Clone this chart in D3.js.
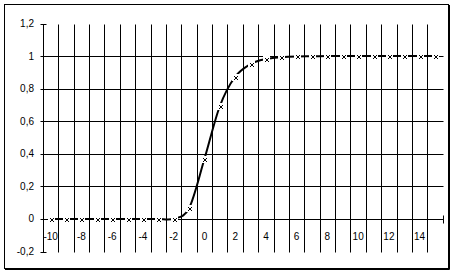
<!DOCTYPE html>
<html>
<head>
<meta charset="utf-8">
<script src="https://cdn.jsdelivr.net/npm/d3@7"></script>
<style>
  body { margin: 0; background: #fff; }
  text { font-family: Arial, "Liberation Sans", sans-serif; font-size: 10px; fill: #000; }
</style>
</head>
<body>
<script>
// categories on the x axis
var categories = [-10, -9, -8, -7, -6, -5, -4, -3, -2, -1, 0, 1, 2, 3, 4, 5, 6, 7, 8, 9, 10, 11, 12, 13, 14, 15];
// series values
var values = [0, 0, 0, 0, 0, 0, 0, 0, 0.001, 0.066, 0.368, 0.692, 0.873, 0.951, 0.982, 0.993, 0.998, 0.999, 1, 1, 1, 1, 1, 1, 1, 1];
// tick labels
var xLabels = [-10, -8, -6, -4, -2, 0, 2, 4, 6, 8, 10, 12, 14];
var yTicks = [-0.2, 0, 0.2, 0.4, 0.6, 0.8, 1, 1.2];
var yGrid = [0.2, 0.4, 0.6, 0.8, 1];

// plot area (named so it does not clash with window.top)
var W = 456, H = 275;
var plot = {left: 43, right: 442.7, top: 23.5, bottom: 251.5};

var svg = d3.select("body").append("svg")
    .attr("width", W)
    .attr("height", H);

// chart frame with a little shadow
svg.append("rect")
    .attr("x", 4.5).attr("y", 4.5)
    .attr("width", 444).attr("height", 264)
    .attr("fill", "#fff").attr("stroke", "#000");
svg.append("path")
    .attr("d", "M449.5,5V269.5H5")
    .attr("fill", "none").attr("stroke", "#000");

var x = d3.scaleBand().domain(categories).range([plot.left, plot.right]).padding(0);
var y = d3.scaleLinear().domain([-0.2, 1.2]).range([plot.bottom, plot.top]);

function px(v) { return Math.round(v) + 0.5; }

var y0 = px(y(0));

// vertical gridlines at the category boundaries
svg.selectAll("line.vgrid")
  .data(categories.slice(1))
  .enter().append("line")
    .attr("class", "vgrid")
    .attr("x1", function(d) { return px(x(d)); })
    .attr("x2", function(d) { return px(x(d)); })
    .attr("y1", px(plot.top)).attr("y2", px(plot.bottom))
    .attr("stroke", "#000");

// horizontal gridlines
svg.selectAll("line.hgrid")
  .data(yGrid)
  .enter().append("line")
    .attr("class", "hgrid")
    .attr("x1", px(plot.left)).attr("x2", px(plot.right))
    .attr("y1", function(d) { return px(y(d)); })
    .attr("y2", function(d) { return px(y(d)); })
    .attr("stroke", "#000");

// y axis
svg.append("line")
    .attr("x1", px(plot.left)).attr("x2", px(plot.left))
    .attr("y1", px(plot.top)).attr("y2", px(plot.bottom))
    .attr("stroke", "#000");
svg.selectAll("line.ytick")
  .data(yTicks)
  .enter().append("line")
    .attr("class", "ytick")
    .attr("x1", px(plot.left) - 3).attr("x2", px(plot.left) + 3)
    .attr("y1", function(d) { return px(y(d)); })
    .attr("y2", function(d) { return px(y(d)); })
    .attr("stroke", "#000");
svg.selectAll("text.ylab")
  .data(yTicks)
  .enter().append("text")
    .attr("class", "ylab")
    .attr("x", 34)
    .attr("y", function(d) { return y(d); })
    .attr("dy", "0.35em")
    .attr("text-anchor", "end")
    .text(function(d) { return String(+d.toFixed(1)).replace(".", ","); });

// x axis at zero
svg.append("line")
    .attr("x1", px(plot.left)).attr("x2", px(plot.right))
    .attr("y1", y0).attr("y2", y0)
    .attr("stroke", "#000");
svg.selectAll("line.xtick")
  .data(categories.concat(["end"]))
  .enter().append("line")
    .attr("class", "xtick")
    .attr("x1", function(d) { return d === "end" ? px(plot.right) : px(x(d)); })
    .attr("x2", function(d) { return d === "end" ? px(plot.right) : px(x(d)); })
    .attr("y1", y0 - 4).attr("y2", y0 + 4)
    .attr("stroke", "#000");
svg.selectAll("text.xlab")
  .data(xLabels)
  .enter().append("text")
    .attr("class", "xlab")
    .attr("x", function(d) { return x(d) + x.bandwidth() / 2; })
    .attr("y", y0 + 20)
    .attr("text-anchor", "middle")
    .text(function(d) { return d; });

// smoothed series line
var line = d3.line()
    .x(function(d, i) { return x(categories[i]) + x.bandwidth() / 2; })
    .y(function(d) { return y(d); })
    .curve(d3.curveCatmullRom.alpha(0));

svg.append("path")
    .datum(values)
    .attr("d", line)
    .attr("fill", "none")
    .attr("stroke", "#000")
    .attr("stroke-width", 2);

// x markers on a white patch
var marks = svg.selectAll("g.mark")
  .data(values)
  .enter().append("g")
    .attr("class", "mark")
    .attr("transform", function(d, i) {
      return "translate(" + Math.round(x(categories[i]) + x.bandwidth() / 2) + "," + Math.round(y(d)) + ")";
    });
marks.append("rect")
    .attr("x", -3).attr("y", -3)
    .attr("width", 7).attr("height", 7)
    .attr("fill", "#fff");
marks.append("path")
    .attr("d", "M-1.5,-1.5L2.5,2.5M2.5,-1.5L-1.5,2.5")
    .attr("stroke", "#000")
    .attr("stroke-width", 1)
    .attr("transform", "translate(0.5,0.5)");
</script>
</body>
</html>
